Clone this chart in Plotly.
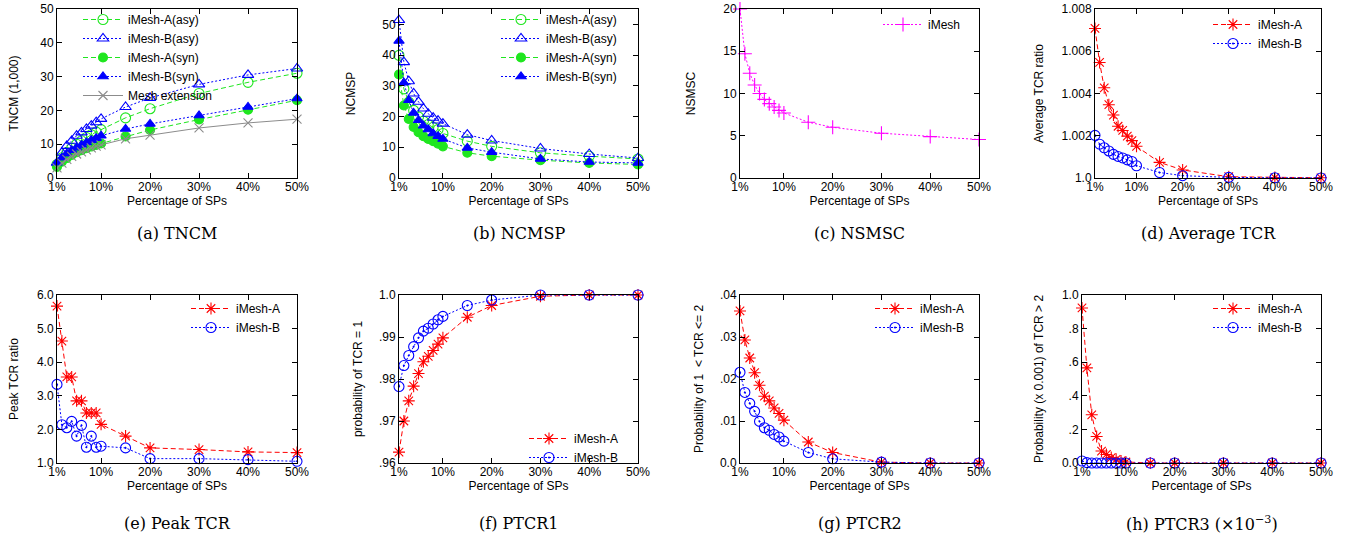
import plotly.graph_objects as go

W, H = 1345, 541

# ---------------- data ----------------
sp_pct = [1, 2, 3, 4, 5, 6, 7, 8, 9, 10, 15, 20, 30, 40, 50]
x_tickvals = [1, 10, 20, 30, 40, 50]
x_ticktext = ["1%", "10%", "20%", "30%", "40%", "50%"]

tncm_a_asy = [4.0, 6.0, 7.5, 8.8, 10.0, 11.0, 12.0, 12.8, 13.6, 14.3, 17.8, 20.5, 25.0, 28.3, 31.0]
tncm_b_asy = [4.5, 7.5, 9.5, 11.0, 12.5, 13.5, 14.5, 15.5, 16.5, 17.5, 21.0, 23.7, 27.7, 30.5, 32.4]
tncm_a_syn = [3.3, 4.8, 5.9, 6.8, 7.6, 8.2, 8.8, 9.3, 9.8, 10.2, 12.3, 14.2, 17.3, 20.2, 23.0]
tncm_b_syn = [4.5, 6.0, 7.2, 8.2, 9.0, 9.8, 10.5, 11.2, 11.8, 12.5, 14.5, 16.0, 18.5, 21.0, 23.5]
tncm_mesh = [3.0, 4.4, 5.5, 6.4, 7.1, 7.7, 8.3, 8.9, 9.4, 9.8, 11.6, 12.7, 14.8, 16.3, 17.4]

ncmsp_a_asy = [39.9, 29.0, 24.7, 22.0, 19.9, 18.5, 17.4, 16.5, 15.8, 14.5, 12.0, 10.3, 8.2, 7.1, 6.2]
ncmsp_b_asy = [51.4, 37.7, 31.5, 27.5, 24.8, 22.6, 20.9, 19.6, 18.7, 17.7, 14.1, 12.2, 9.6, 7.8, 6.5]
ncmsp_a_syn = [33.7, 23.6, 19.2, 16.6, 14.9, 13.6, 12.7, 12.0, 11.2, 10.3, 8.2, 7.1, 5.8, 4.9, 4.4]
ncmsp_b_syn = [44.6, 31.0, 25.3, 21.2, 18.8, 17.0, 15.8, 14.5, 13.6, 12.7, 9.8, 8.4, 6.2, 5.2, 4.9]

nsmsc = [20.0, 14.7, 12.4, 11.0, 10.0, 9.3, 8.8, 8.4, 8.0, 7.7, 6.6, 6.0, 5.3, 4.9, 4.55]

avg_tcr_a = [1.00708, 1.00547, 1.00427, 1.00347, 1.00298, 1.00245, 1.00225, 1.00198, 1.00177, 1.0015,
             1.00074, 1.00038, 1.00006, 1.00002, 1.00001]
avg_tcr_b = [1.00202, 1.0016, 1.00143, 1.00128, 1.00112, 1.00102, 1.00095, 1.00086, 1.00078, 1.00058,
             1.00026, 1.00011, 1.00003, 1.00001, 1.0]

peak_tcr_a = [5.67, 4.63, 3.56, 3.56, 2.85, 2.85, 2.49, 2.49, 2.49, 2.15, 1.8, 1.45, 1.4, 1.33, 1.31]
peak_tcr_b = [3.34, 2.14, 2.05, 2.24, 1.8, 2.12, 1.47, 1.8, 1.47, 1.5, 1.45, 1.13, 1.13, 1.1, 1.05]

ptcr1_a = [0.9626, 0.9700, 0.9748, 0.9783, 0.9813, 0.9841, 0.9854, 0.9868, 0.9883, 0.9898,
           0.9947, 0.9975, 0.9997, 1.0, 1.0]
ptcr1_b = [0.9782, 0.9832, 0.9856, 0.9877, 0.9898, 0.9914, 0.9921, 0.9931, 0.9941, 0.9949,
           0.9975, 0.9988, 1.0, 1.0, 1.0]

ptcr2_a = [0.0362, 0.0293, 0.0250, 0.0215, 0.0185, 0.0159, 0.0148, 0.0131, 0.0118, 0.0102,
           0.0050, 0.0025, 0.0002, 0.0, 0.0]
ptcr2_b = [0.0216, 0.0168, 0.0142, 0.0123, 0.0099, 0.0084, 0.0078, 0.0068, 0.0062, 0.0052,
           0.0025, 0.0010, 0.0002, 0.0, 0.0]

ptcr3_a = [0.923, 0.566, 0.287, 0.158, 0.071, 0.051, 0.032, 0.022, 0.012, 0.006, 0.0, 0.0, 0.0, 0.0, 0.0]
ptcr3_b = [0.012, 0.002, 0.0, 0.0, 0.0, 0.0, 0.0, 0.0, 0.0, 0.0, 0.0, 0.0, 0.0, 0.0, 0.0]

captions = ["(a) TNCM", "(b) NCMSP", "(c) NSMSC", "(d) Average TCR",
            "(e) Peak TCR", "(f) PTCR1", "(g) PTCR2", "(h) PTCR3 (×10<sup>−3</sup>)"]

# ---------------- styling ----------------
GREEN = "#1fe61f"
BLUE = "#0000ff"
RED = "#ff0000"
MAG = "#ff00ff"
GRAY = "#8c8c8c"
FONT = "Liberation Sans, Arial, sans-serif"
SERIF = "DejaVu Serif, Liberation Serif, serif"

# pixel boxes of each plot area: (left, right, top, bottom)
boxes = [
    (57, 297, 9, 178), (399, 638, 9, 178), (740, 979, 9, 178), (1095, 1321, 9, 178),
    (57, 297, 295, 463), (399, 638, 295, 463), (740, 979, 295, 463), (1082, 1321, 295, 463),
]

yaxes_cfg = [
    dict(title="TNCM (1,000)", range=[0, 50], tickvals=[0, 10, 20, 30, 40, 50],
         ticktext=["0", "10", "20", "30", "40", "50"], standoff=19),
    dict(title="NCMSP", range=[0, 55], tickvals=[0, 10, 20, 30, 40, 50],
         ticktext=["0", "10", "20", "30", "40", "50"], standoff=24),
    dict(title="NSMSC", range=[0, 20], tickvals=[0, 5, 10, 15, 20],
         ticktext=["0", "5", "10", "15", "20"], standoff=25),
    dict(title="Average TCR ratio", range=[1.0, 1.008],
         tickvals=[1.0, 1.002, 1.004, 1.006, 1.008],
         ticktext=["1.0", "1.002", "1.004", "1.006", "1.008"], standoff=15),
    dict(title="Peak TCR ratio", range=[1.0, 6.0], tickvals=[1, 2, 3, 4, 5, 6],
         ticktext=["1.0", "2.0", "3.0", "4.0", "5.0", "6.0"], standoff=15),
    dict(title="probability of TCR = 1", range=[0.96, 1.0],
         tickvals=[0.96, 0.97, 0.98, 0.99, 1.0],
         ticktext=[".96", ".97", ".98", ".99", "1.0"], standoff=13),
    dict(title="Probability of 1  < TCR <= 2", range=[0, 0.04],
         tickvals=[0, 0.01, 0.02, 0.03, 0.04],
         ticktext=["0.0", ".01", ".02", ".03", ".04"], standoff=13),
    dict(title="Probability (x 0.001) of TCR > 2", range=[0, 1.0],
         tickvals=[0, 0.2, 0.4, 0.6, 0.8, 1.0],
         ticktext=["0.0", ".2", ".4", ".6", ".8", "1.0"], standoff=15),
]

# legend boxes: (left px, top px)
legend_pos = [(78, 5), (496, 5), (878, 10), (1208, 10),
              (186, 294), (524, 424), (870, 294), (1208, 294)]

fig = go.Figure()


def add(idx, y, name, color, symbol, dash, msize=9):
    sfx = "" if idx == 0 else str(idx + 1)
    fig.add_trace(go.Scatter(
        x=sp_pct, y=y, name=name, mode="lines+markers",
        xaxis="x" + sfx, yaxis="y" + sfx,
        legend="legend" + sfx,
        line=dict(color=color, width=1, dash=dash),
        marker=dict(symbol=symbol, size=msize, color=color,
                    line=dict(color=color, width=1.1)),
        cliponaxis=False,
    ))


DASH = "5px,3px"
DOT = "2px,2px"

add(0, tncm_a_asy, "iMesh-A(asy)", GREEN, "circle-open", DASH, msize=10)
add(0, tncm_b_asy, "iMesh-B(asy)", BLUE, "triangle-up-open", DOT, msize=10)
add(0, tncm_a_syn, "iMesh-A(syn)", GREEN, "circle", DASH, msize=9)
add(0, tncm_b_syn, "iMesh-B(syn)", BLUE, "triangle-up", DOT, msize=9)
add(0, tncm_mesh, "Mesh extension", GRAY, "x-thin-open", "solid", msize=9)

add(1, ncmsp_a_asy, "iMesh-A(asy)", GREEN, "circle-open", DASH, msize=10)
add(1, ncmsp_b_asy, "iMesh-B(asy)", BLUE, "triangle-up-open", DOT, msize=10)
add(1, ncmsp_a_syn, "iMesh-A(syn)", GREEN, "circle", DASH, msize=9)
add(1, ncmsp_b_syn, "iMesh-B(syn)", BLUE, "triangle-up", DOT, msize=9)

add(2, nsmsc, "iMesh", MAG, "cross-thin-open", DOT, msize=10)

add(3, avg_tcr_a, "iMesh-A", RED, "asterisk-open", DASH, msize=10)
add(3, avg_tcr_b, "iMesh-B", BLUE, "circle-open-dot", DOT, msize=10)

add(4, peak_tcr_a, "iMesh-A", RED, "asterisk-open", DASH, msize=10)
add(4, peak_tcr_b, "iMesh-B", BLUE, "circle-open-dot", DOT, msize=10)

add(5, ptcr1_a, "iMesh-A", RED, "asterisk-open", DASH, msize=10)
add(5, ptcr1_b, "iMesh-B", BLUE, "circle-open-dot", DOT, msize=10)

add(6, ptcr2_a, "iMesh-A", RED, "asterisk-open", DASH, msize=10)
add(6, ptcr2_b, "iMesh-B", BLUE, "circle-open-dot", DOT, msize=10)

add(7, ptcr3_a, "iMesh-A", RED, "asterisk-open", DASH, msize=10)
add(7, ptcr3_b, "iMesh-B", BLUE, "circle-open-dot", DOT, msize=10)


def fx(px):
    return px / W


def fy(px):
    return 1 - px / H


layout = dict(
    width=W, height=H, margin=dict(l=0, r=0, t=0, b=0, autoexpand=False),
    paper_bgcolor="white", plot_bgcolor="white",
    font=dict(family=FONT, size=12, color="black"),
    annotations=[],
)

axis_common = dict(showline=True, linecolor="black", linewidth=1, mirror="ticks",
                   ticks="inside", ticklen=5, tickcolor="black", showgrid=False,
                   zeroline=False, automargin=False,
                   tickfont=dict(family=FONT, size=12, color="black"))

for i, (l, r, t, b) in enumerate(boxes):
    sfx = "" if i == 0 else str(i + 1)
    ycfg = yaxes_cfg[i]
    layout["xaxis" + sfx] = dict(
        domain=[fx(l), fx(r)], range=[1, 50], tickvals=x_tickvals, ticktext=x_ticktext,
        anchor="y" + sfx, ticklabelstandoff=-2,
        title=dict(text="Percentage of SPs", font=dict(size=12), standoff=0),
        **axis_common)
    layout["yaxis" + sfx] = dict(
        domain=[fy(b), fy(t)], range=ycfg["range"], tickvals=ycfg["tickvals"],
        ticktext=ycfg["ticktext"], anchor="x" + sfx,
        title=dict(text=ycfg["title"], font=dict(size=12), standoff=ycfg["standoff"]),
        **axis_common)
    lx, ly = legend_pos[i]
    layout["legend" + sfx] = dict(
        x=fx(lx), y=fy(ly), xanchor="left", yanchor="top",
        bgcolor="rgba(0,0,0,0)", borderwidth=0, itemwidth=40,
        font=dict(family=FONT, size=12, color="black"),
        tracegroupgap=0, traceorder="normal",
    )
    cy = 233 if i < 4 else 523
    layout["annotations"].append(dict(
        text=captions[i], x=fx((l + r) / 2), y=fy(cy), xref="paper", yref="paper",
        xanchor="center", yanchor="middle", showarrow=False,
        font=dict(family=SERIF, size=16, color="black"),
    ))

fig.update_layout(**layout)
# remove the browser's default 8px body margin so the figure sits at the page origin
fig.write_html("out.html", config={"displayModeBar": False},
               post_script="document.body.style.margin='0';")
